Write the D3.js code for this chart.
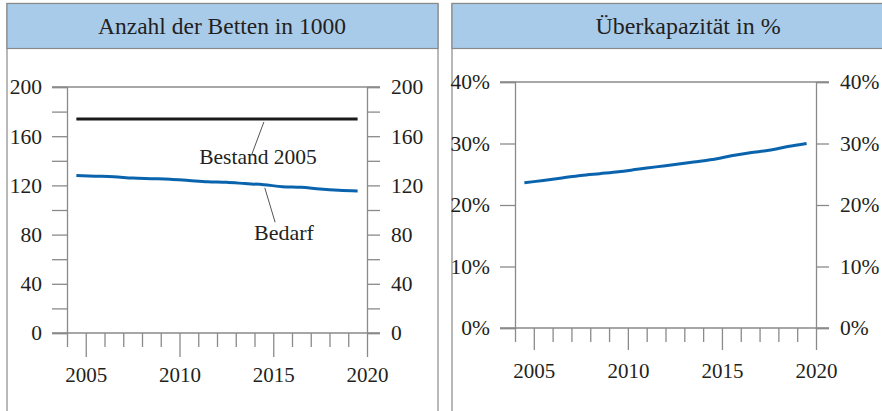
<!DOCTYPE html>
<html>
<head>
<meta charset="utf-8">
<script src="https://cdn.jsdelivr.net/npm/d3@7"></script>
</head>
<body style="margin:0">
<svg id="chart" width="882" height="411" font-family="Liberation Serif"></svg>
<script>
// data
var years = [2004.5, 2005.5, 2006.5, 2007.5, 2008.5, 2009.5, 2010.5, 2011.5,
             2012.5, 2013.5, 2014.5, 2015.5, 2016.5, 2017.5, 2018.5, 2019.5];
var bestand = [174, 174, 174, 174, 174, 174, 174, 174, 174, 174, 174, 174, 174, 174, 174, 174];
var bedarf = [128, 127.5, 127, 126, 125.5, 125, 124, 123, 122.5, 121.5, 120.5, 119, 118.5, 117, 116, 115.5];
var ueberkap = [23.6, 24.0, 24.4, 24.8, 25.1, 25.4, 25.8, 26.2, 26.6, 27.0, 27.4, 28.0, 28.5, 28.9, 29.5, 30.0];
var xLabels = [2005, 2010, 2015, 2020];
var bettenTicks = [0, 40, 80, 120, 160, 200];
var prozentTicks = [0, 10, 20, 30, 40];
var titles = ['Anzahl der Betten in 1000', 'Überkapazität in %'];

var svg = d3.select('#chart');
var ink = '#231f20';
var gray = '#8a8a8a';
var blue = '#0a64ad';

function txt(sel, size) {
  return sel.attr('font-family', 'Liberation Serif')
    .attr('font-size', size).attr('fill', ink);
}

function drawPanel(opt) {
  var g = svg.append('g');

  // frame + header
  g.append('rect')
    .attr('x', opt.boxX).attr('y', 3.5)
    .attr('width', opt.boxW).attr('height', 420)
    .attr('fill', '#fff').attr('stroke', gray).attr('stroke-width', 1.2);
  g.append('rect')
    .attr('x', opt.boxX).attr('y', 3.5)
    .attr('width', opt.boxW).attr('height', 45)
    .attr('fill', '#a9cbea').attr('stroke', gray).attr('stroke-width', 1.2);
  txt(g.append('text'), opt.titleSize)
    .attr('x', opt.titleX).attr('y', 34)
    .attr('text-anchor', 'middle')
    .text(opt.title);

  var x = d3.scaleLinear().domain([2004, 2020]).range([opt.left, opt.right]);
  var y = d3.scaleLinear().domain(opt.yDomain).range([opt.bottom, opt.top]);

  // y axes: left and right, ticks outward
  var yMinor = d3.range(opt.yDomain[0], opt.yDomain[1] + 0.001, opt.yMinorStep);
  var lab = function(d) { return opt.yTicks.indexOf(d) >= 0 ? opt.fmt(d) : ''; };
  var yAxisL = d3.axisLeft(y).tickValues(yMinor).tickSize(15).tickFormat(lab).tickPadding(10);
  var yAxisR = d3.axisRight(y).tickValues(yMinor).tickSize(13).tickFormat(lab).tickPadding(11);

  var gl = g.append('g').attr('transform', 'translate(' + opt.left + ',0)').call(yAxisL);
  var gr = g.append('g').attr('transform', 'translate(' + opt.right + ',0)').call(yAxisR);
  [gl, gr].forEach(function(a) {
    a.attr('font-family', 'Liberation Serif');
    a.select('.domain').attr('stroke', gray).attr('stroke-width', 1.3);
    a.selectAll('.tick line').attr('stroke', gray).attr('stroke-width', 1.3);
    txt(a.selectAll('.tick text'), 21.5);
  });

  // horizontal lines at top and bottom extended to tick ends
  [opt.yDomain[0], opt.yDomain[1]].forEach(function(v) {
    g.append('line')
      .attr('x1', opt.left - 15).attr('x2', opt.right + 13)
      .attr('y1', y(v)).attr('y2', y(v))
      .attr('stroke', gray).attr('stroke-width', 1.3);
  });

  // x axis ticks below zero line
  var xYears = d3.range(2004, 2021);
  var xAxis = d3.axisBottom(x).tickValues(xYears).tickSize(0).tickFormat(function(d) {
    return xLabels.indexOf(d) >= 0 ? d : '';
  }).tickPadding(opt.xPad);
  var gx = g.append('g').attr('transform', 'translate(0,' + opt.bottom + ')').call(xAxis);
  gx.attr('font-family', 'Liberation Serif');
  gx.select('.domain').remove();
  gx.selectAll('.tick line')
    .attr('y2', function(d) { return xLabels.indexOf(d) >= 0 ? opt.majorLen : opt.minorLen; })
    .attr('stroke', gray).attr('stroke-width', 1.3);
  txt(gx.selectAll('.tick text'), 21);

  return { g: g, x: x, y: y };
}

var p1 = drawPanel({
  boxX: 7, boxW: 431, titleX: 222, title: titles[0], titleSize: 23.5,
  left: 67, right: 367, top: 87, bottom: 333,
  yDomain: [0, 200], yMinorStep: 20, yTicks: bettenTicks,
  fmt: function(d) { return d; },
  xPad: 34, majorLen: 24, minorLen: 14
});

var p2 = drawPanel({
  boxX: 452, boxW: 460, titleX: 688, title: titles[1], titleSize: 24,
  left: 515, right: 816, top: 82, bottom: 328,
  yDomain: [0, 40], yMinorStep: 10, yTicks: prozentTicks,
  fmt: function(d) { return d + '%'; },
  xPad: 35, majorLen: 22, minorLen: 14
});

var line1 = d3.line().x(function(d, i) { return p1.x(years[i]); }).y(function(d) { return p1.y(d); });
p1.g.append('path').attr('d', line1(bestand))
  .attr('fill', 'none').attr('stroke', '#1a1a1a').attr('stroke-width', 3);
p1.g.append('path').attr('d', line1.curve(d3.curveMonotoneX)(bedarf))
  .attr('fill', 'none').attr('stroke', blue).attr('stroke-width', 3);

// labels with leader lines
p1.g.append('line')
  .attr('x1', p1.x(2014.5)).attr('y1', p1.y(bestand[10]) + 3)
  .attr('x2', p1.x(2013.85)).attr('y2', p1.y(145))
  .attr('stroke', '#555').attr('stroke-width', 1);
txt(p1.g.append('text'), 21.5).attr('x', 258).attr('y', p1.y(137))
  .attr('text-anchor', 'middle').text('Bestand 2005');
p1.g.append('line')
  .attr('x1', p1.x(2014.55)).attr('y1', p1.y(118))
  .attr('x2', p1.x(2015.1)).attr('y2', p1.y(90))
  .attr('stroke', '#555').attr('stroke-width', 1);
txt(p1.g.append('text'), 22).attr('x', 284).attr('y', p1.y(76))
  .attr('text-anchor', 'middle').text('Bedarf');

var line2 = d3.line().curve(d3.curveMonotoneX)
  .x(function(d, i) { return p2.x(years[i]); }).y(function(d) { return p2.y(d); });
p2.g.append('path').attr('d', line2(ueberkap))
  .attr('fill', 'none').attr('stroke', blue).attr('stroke-width', 3);
</script>
</body>
</html>
